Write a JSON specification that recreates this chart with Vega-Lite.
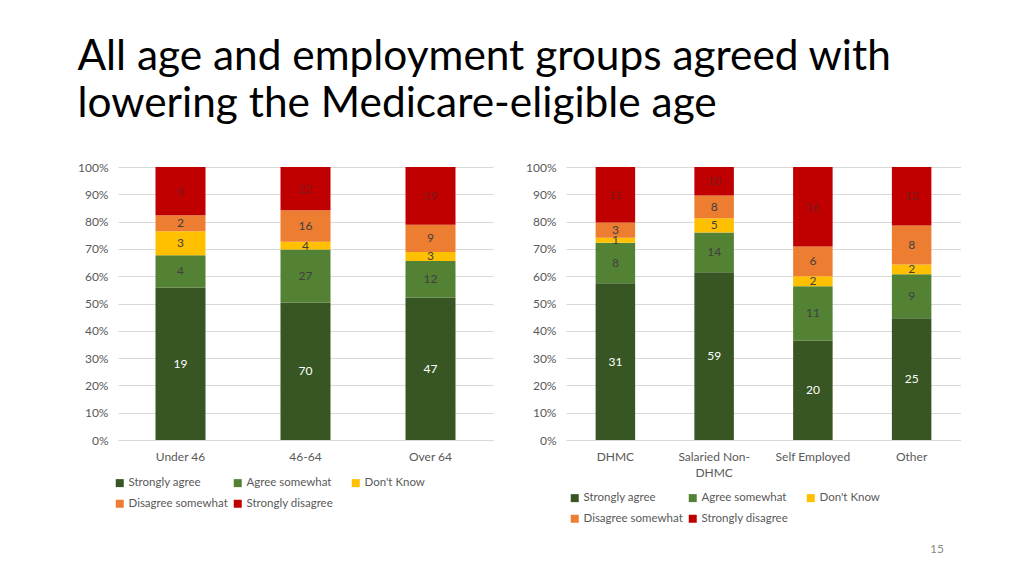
{
  "$schema": "https://vega.github.io/schema/vega-lite/v6.json",
  "background": "white",
  "padding": {"left": 77, "top": 35, "right": 0, "bottom": 0},
  "title": {
    "text": ["All age and employment groups agreed with", "lowering the Medicare-eligible age"],
    "anchor": "start",
    "font": "Lato",
    "fontSize": 42.4,
    "fontWeight": "normal",
    "color": "#000000",
    "lineHeight": 47,
    "offset": 35
  },
  "config": {
    "view": {"stroke": null},
    "axis": {"labelFont": "Lato", "labelFontSize": 12, "labelColor": "#595959", "ticks": false, "title": null},
    "legend": {"labelFont": "Lato", "labelFontSize": 11.5, "labelColor": "#595959"}
  },
  "datasets": {
    "age": [
      {"group": "Under 46", "response": "Strongly agree", "count": 19, "rank": 1},
      {"group": "Under 46", "response": "Agree somewhat", "count": 4, "rank": 2},
      {"group": "Under 46", "response": "Don't Know", "count": 3, "rank": 3},
      {"group": "Under 46", "response": "Disagree somewhat", "count": 2, "rank": 4},
      {"group": "Under 46", "response": "Strongly disagree", "count": 6, "rank": 5},
      {"group": "46-64", "response": "Strongly agree", "count": 70, "rank": 1},
      {"group": "46-64", "response": "Agree somewhat", "count": 27, "rank": 2},
      {"group": "46-64", "response": "Don't Know", "count": 4, "rank": 3},
      {"group": "46-64", "response": "Disagree somewhat", "count": 16, "rank": 4},
      {"group": "46-64", "response": "Strongly disagree", "count": 22, "rank": 5},
      {"group": "Over 64", "response": "Strongly agree", "count": 47, "rank": 1},
      {"group": "Over 64", "response": "Agree somewhat", "count": 12, "rank": 2},
      {"group": "Over 64", "response": "Don't Know", "count": 3, "rank": 3},
      {"group": "Over 64", "response": "Disagree somewhat", "count": 9, "rank": 4},
      {"group": "Over 64", "response": "Strongly disagree", "count": 19, "rank": 5}
    ],
    "emp": [
      {"group": "DHMC", "response": "Strongly agree", "count": 31, "rank": 1},
      {"group": "DHMC", "response": "Agree somewhat", "count": 8, "rank": 2},
      {"group": "DHMC", "response": "Don't Know", "count": 1, "rank": 3},
      {"group": "DHMC", "response": "Disagree somewhat", "count": 3, "rank": 4},
      {"group": "DHMC", "response": "Strongly disagree", "count": 11, "rank": 5},
      {"group": "Salaried Non-DHMC", "response": "Strongly agree", "count": 59, "rank": 1},
      {"group": "Salaried Non-DHMC", "response": "Agree somewhat", "count": 14, "rank": 2},
      {"group": "Salaried Non-DHMC", "response": "Don't Know", "count": 5, "rank": 3},
      {"group": "Salaried Non-DHMC", "response": "Disagree somewhat", "count": 8, "rank": 4},
      {"group": "Salaried Non-DHMC", "response": "Strongly disagree", "count": 10, "rank": 5},
      {"group": "Self Employed", "response": "Strongly agree", "count": 20, "rank": 1},
      {"group": "Self Employed", "response": "Agree somewhat", "count": 11, "rank": 2},
      {"group": "Self Employed", "response": "Don't Know", "count": 2, "rank": 3},
      {"group": "Self Employed", "response": "Disagree somewhat", "count": 6, "rank": 4},
      {"group": "Self Employed", "response": "Strongly disagree", "count": 16, "rank": 5},
      {"group": "Other", "response": "Strongly agree", "count": 25, "rank": 1},
      {"group": "Other", "response": "Agree somewhat", "count": 9, "rank": 2},
      {"group": "Other", "response": "Don't Know", "count": 2, "rank": 3},
      {"group": "Other", "response": "Disagree somewhat", "count": 8, "rank": 4},
      {"group": "Other", "response": "Strongly disagree", "count": 12, "rank": 5}
    ]
  },
  "spacing": 32,
  "hconcat": [
    {
      "width": 375,
      "height": 273,
      "data": {"name": "age"},
      "encoding": {
        "x": {
          "field": "group", "type": "nominal",
          "sort": ["Under 46", "46-64", "Over 64"],
          "scale": {"paddingInner": 0.6, "paddingOuter": 0.3},
          "axis": {"labelAngle": 0, "domain": true, "domainColor": "#d9d9d9", "labelPadding": 11}
        }
      },
      "layer": [
        {
          "mark": {"type": "bar"},
          "encoding": {
            "y": {
              "field": "count", "type": "quantitative", "stack": "normalize",
              "scale": {"domain": [0, 1]},
              "axis": {"format": "%", "values": [0, 0.1, 0.2, 0.3, 0.4, 0.5, 0.6, 0.7, 0.8, 0.9, 1], "domain": false, "gridColor": "#d9d9d9", "labelPadding": 10}
            },
            "order": {"field": "rank", "type": "quantitative"},
            "color": {
              "field": "response", "type": "nominal",
              "scale": {
                "domain": ["Strongly agree", "Agree somewhat", "Don't Know", "Disagree somewhat", "Strongly disagree"],
                "range": ["#375623", "#548235", "#FFC000", "#ED7D31", "#C00000"]
              },
              "legend": {
                "title": null, "orient": "none", "legendX": -4, "legendY": 310,
                "direction": "horizontal", "columns": 3, "gridAlign": "all",
                "symbolType": "square", "symbolSize": 64, "symbolStrokeWidth": 0,
                "columnPadding": 4, "rowPadding": 8, "labelOffset": 3, "padding": 0
              }
            }
          }
        },
        {
          "transform": [
            {"stack": "count", "groupby": ["group"], "sort": [{"field": "rank", "order": "ascending"}], "offset": "normalize", "as": ["y0", "y1"]},
            {"fold": ["y0", "y1"], "as": ["edge", "pos"]},
            {"aggregate": [{"op": "mean", "field": "pos", "as": "mid"}], "groupby": ["group", "response", "count"]}
          ],
          "mark": {"type": "text", "font": "Lato", "fontSize": 12},
          "encoding": {
            "y": {
              "field": "mid", "type": "quantitative",
              "axis": {"format": "%", "values": [0, 0.1, 0.2, 0.3, 0.4, 0.5, 0.6, 0.7, 0.8, 0.9, 1], "domain": false, "gridColor": "#d9d9d9", "labelPadding": 10}
            },
            "text": {"field": "count", "type": "quantitative"},
            "color": {
              "condition": [
                {"test": "datum.response === 'Strongly agree'", "value": "#ffffff"},
                {"test": "datum.response === 'Strongly disagree'", "value": "#7a1a1a"}
              ],
              "value": "#404040"
            }
          }
        }
      ]
    },
    {
      "width": 395,
      "height": 273,
      "data": {"name": "emp"},
      "title": {"text": "15", "orient": "bottom", "anchor": "end", "font": "Lato", "fontSize": 12, "fontWeight": "normal", "color": "#8c8c8c", "offset": 19, "dx": -17},
      "encoding": {
        "x": {
          "field": "group", "type": "nominal",
          "sort": ["DHMC", "Salaried Non-DHMC", "Self Employed", "Other"],
          "scale": {"paddingInner": 0.6, "paddingOuter": 0.3},
          "axis": {
            "labelAngle": 0, "domain": true, "domainColor": "#d9d9d9", "labelPadding": 11,
            "labelExpr": "datum.label === 'Salaried Non-DHMC' ? ['Salaried Non-', 'DHMC'] : datum.label",
            "labelLineHeight": 16
          }
        }
      },
      "layer": [
        {
          "mark": {"type": "bar"},
          "encoding": {
            "y": {
              "field": "count", "type": "quantitative", "stack": "normalize",
              "scale": {"domain": [0, 1]},
              "axis": {"format": "%", "values": [0, 0.1, 0.2, 0.3, 0.4, 0.5, 0.6, 0.7, 0.8, 0.9, 1], "domain": false, "gridColor": "#d9d9d9", "labelPadding": 10}
            },
            "order": {"field": "rank", "type": "quantitative"},
            "color": {
              "field": "response", "type": "nominal",
              "scale": {
                "domain": ["Strongly agree", "Agree somewhat", "Don't Know", "Disagree somewhat", "Strongly disagree"],
                "range": ["#375623", "#548235", "#FFC000", "#ED7D31", "#C00000"]
              },
              "legend": {
                "title": null, "orient": "none", "legendX": 3, "legendY": 325,
                "direction": "horizontal", "columns": 3, "gridAlign": "all",
                "symbolType": "square", "symbolSize": 64, "symbolStrokeWidth": 0,
                "columnPadding": 4, "rowPadding": 8, "labelOffset": 3, "padding": 0
              }
            }
          }
        },
        {
          "transform": [
            {"stack": "count", "groupby": ["group"], "sort": [{"field": "rank", "order": "ascending"}], "offset": "normalize", "as": ["y0", "y1"]},
            {"fold": ["y0", "y1"], "as": ["edge", "pos"]},
            {"aggregate": [{"op": "mean", "field": "pos", "as": "mid"}], "groupby": ["group", "response", "count"]}
          ],
          "mark": {"type": "text", "font": "Lato", "fontSize": 12},
          "encoding": {
            "y": {
              "field": "mid", "type": "quantitative",
              "axis": {"format": "%", "values": [0, 0.1, 0.2, 0.3, 0.4, 0.5, 0.6, 0.7, 0.8, 0.9, 1], "domain": false, "gridColor": "#d9d9d9", "labelPadding": 10}
            },
            "text": {"field": "count", "type": "quantitative"},
            "color": {
              "condition": [
                {"test": "datum.response === 'Strongly agree'", "value": "#ffffff"},
                {"test": "datum.response === 'Strongly disagree'", "value": "#7a1a1a"}
              ],
              "value": "#404040"
            }
          }
        }
      ]
    }
  ],
  "resolve": {"scale": {"color": "independent"}}
}
